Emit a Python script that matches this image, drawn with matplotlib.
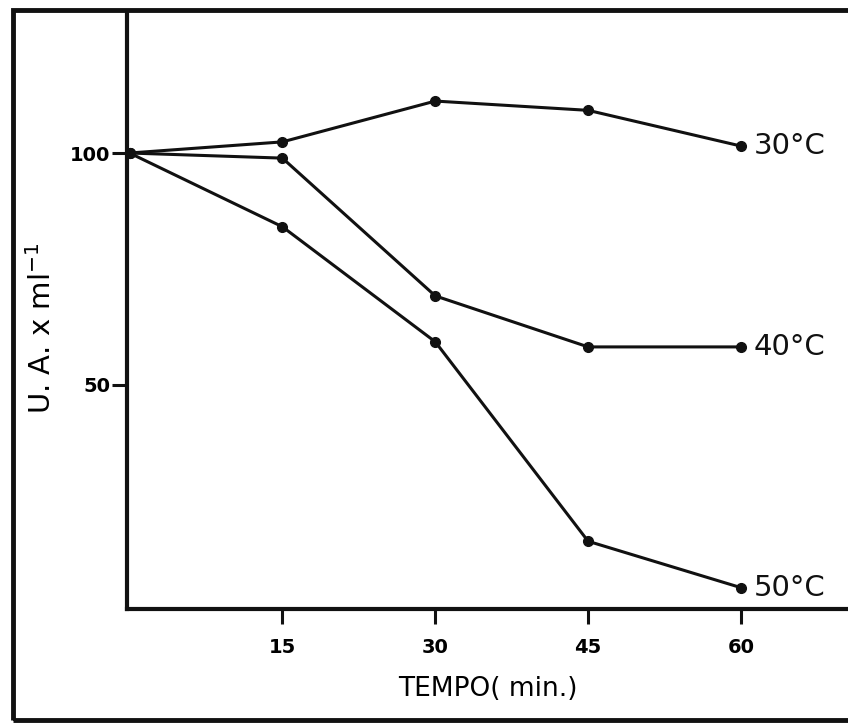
import matplotlib.pyplot as plt
from matplotlib.patches import Rectangle

# tempo (min) e atividade (U.A. x ml-1) para cada temperatura
tempo = [0, 15, 30, 45, 60]
ua_30 = [100, 102.4, 111.2, 109.2, 101.5]
ua_40 = [100, 98.9, 69.2, 58.2, 58.2]
ua_50 = [100, 84.1, 59.3, 16.3, 6.3]
labels = ["30°C", "40°C", "50°C"]
x_ticks = [15, 30, 45, 60]
y_ticks = [50, 100]

fig = plt.figure(figsize=(8.48, 7.27), dpi=100)
ax = fig.add_axes([127 / 848, (727 - 609) / 727, 1 - 127 / 848, (609 - 12) / 727])

for serie, lab in zip([ua_30, ua_40, ua_50], labels):
    ax.plot(tempo, serie, color="#111111", lw=2.2, marker="o", markersize=7)
    ax.annotate(lab, (tempo[-1], serie[-1]), xytext=(9, 0), textcoords="offset points",
                va="center", ha="left", fontsize=21, color="#111111")

ax.set_xlim(-0.25, 70.5)
ax.set_ylim(1.7, 130.4)
ax.set_xticks(x_ticks)
ax.set_yticks(y_ticks)
ax.tick_params(axis="both", direction="out", length=11, width=2.2, color="#111111",
               labelsize=14)
for t in ax.get_xticklabels() + ax.get_yticklabels():
    t.set_fontweight("bold")
ax.tick_params(axis="x", pad=10)
ax.tick_params(axis="y", pad=1)

for side in ["top", "right"]:
    ax.spines[side].set_visible(False)
for side in ["left", "bottom"]:
    ax.spines[side].set_linewidth(3)
    ax.spines[side].set_color("#111111")

ax.set_xlabel("TEMPO( min.)", fontsize=19)
ax.xaxis.set_label_coords(0.5, -0.112)
ax.set_ylabel("U. A. x ml$^{-1}$", fontsize=21)
ax.yaxis.set_label_coords(-0.097, 0.47)

# moldura externa
fig.patches.append(Rectangle((13 / 848, 7 / 727), 1.0, (727 - 7 - 10) / 727,
                             transform=fig.transFigure, fill=False, lw=3.5,
                             edgecolor="#111111"))

fig.savefig("out.png", dpi=100)
